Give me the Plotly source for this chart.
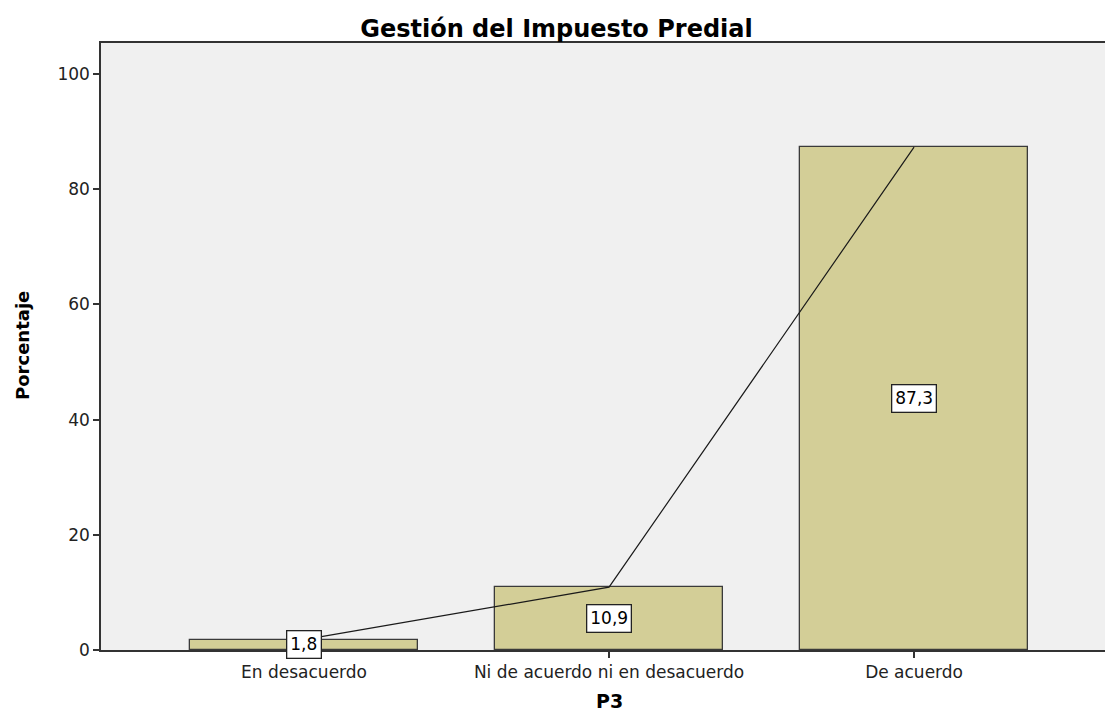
import plotly.graph_objects as go

categories = ["En desacuerdo", "Ni de acuerdo ni en desacuerdo", "De acuerdo"]
percentages = [1.8, 10.9, 87.3]
y_ticks = [0, 20, 40, 60, 80, 100]

title_text = "Gestión del Impuesto Predial"
x_title = "P3"
y_title = "Porcentaje"

bar_color = "#D3CE97"
bg_color = "#F0F0F0"
edge_color = "#3a3a3a"
font_fam = "DejaVu Sans, Arial, sans-serif"

xs = list(range(len(categories)))

fig = go.Figure()
fig.add_trace(go.Bar(
    x=xs, y=percentages, width=0.7475,
    marker=dict(color=bar_color, line=dict(color=edge_color, width=1.3)),
    hoverinfo="skip", showlegend=False,
))
fig.add_trace(go.Scatter(
    x=xs, y=percentages, mode="lines",
    line=dict(color="#1a1a1a", width=1.2),
    hoverinfo="skip", showlegend=False,
))

for xi, v in zip(xs, percentages):
    fig.add_annotation(
        x=xi, y=v / 2, xref="x", yref="y",
        text=f"{v:.1f}".replace(".", ","),
        showarrow=False,
        font=dict(family=font_fam, size=17, color="black"),
        bgcolor="white", bordercolor="#222222", borderwidth=1.3, borderpad=3,
    )

# axis titles
fig.add_annotation(
    x=-0.0777, y=0.5025, xref="paper", yref="paper",
    text=f"<b>{y_title}</b>", textangle=-90, showarrow=False,
    font=dict(family=font_fam, size=18, color="black"),
    xanchor="center", yanchor="middle",
)
fig.add_annotation(
    x=0.506, y=-0.0835, xref="paper", yref="paper",
    text=f"<b>{x_title}</b>", showarrow=False,
    font=dict(family=font_fam, size=19, color="black"),
    xanchor="center", yanchor="middle",
)

fig.update_layout(
    width=1105, height=713,
    margin=dict(l=101, r=0, t=43, b=63),
    paper_bgcolor="white",
    plot_bgcolor=bg_color,
    title=dict(
        text=f"<b>{title_text}</b>", x=0.5036, xanchor="center",
        y=1 - 29 / 713, yanchor="middle", yref="container",
        font=dict(family=font_fam, size=24, color="black"),
    ),
    bargap=0,
)
fig.update_xaxes(
    range=[-0.6656, 2.626],
    tickmode="array", tickvals=xs, ticktext=categories,
    ticks="outside", ticklen=6, tickwidth=1.5, tickcolor="#333333",
    showline=True, linecolor="#333333", linewidth=1.5, mirror=True,
    showgrid=False, zeroline=False,
    tickfont=dict(family=font_fam, size=17, color="#222222"),
)
fig.update_yaxes(
    range=[0, 105.38],
    tickmode="array", tickvals=y_ticks,
    ticks="outside", ticklen=6, tickwidth=1.5, tickcolor="#333333",
    showline=True, linecolor="#333333", linewidth=1.5,
    showgrid=False, zeroline=False,
    tickfont=dict(family=font_fam, size=17, color="#222222"),
)

fig.write_html(
    "out.html",
    config={"displayModeBar": False},
    post_script="document.body.style.margin='0';document.body.style.overflow='hidden';",
)
